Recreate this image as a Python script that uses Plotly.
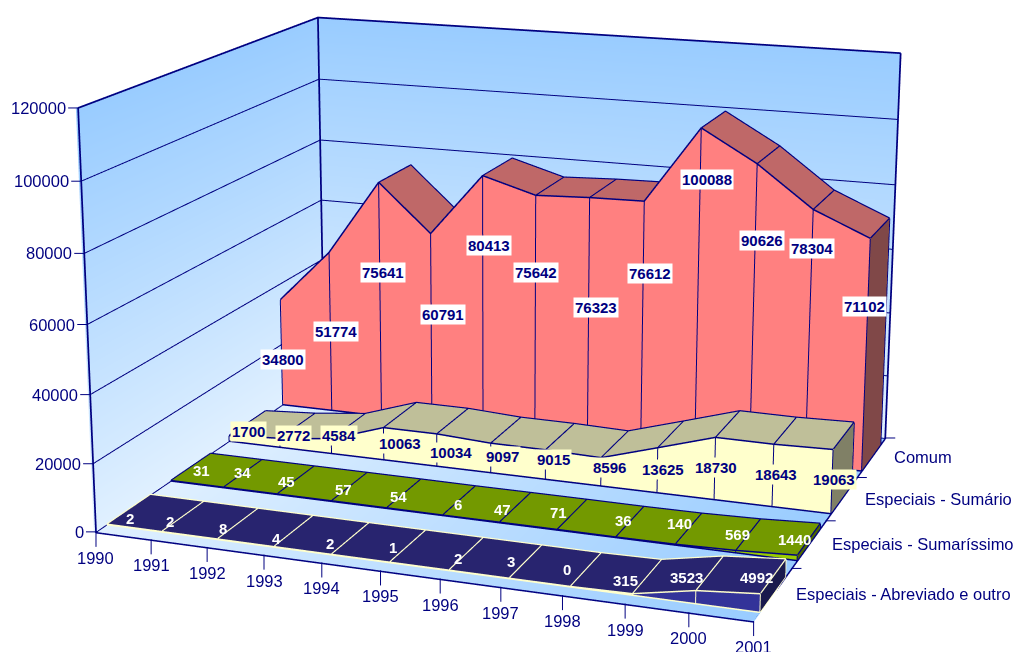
import plotly.graph_objects as go

years = list(range(1990, 2002))
series_names = ["Especiais - Abreviado e outro", "Especiais - Sumaríssimo", "Especiais - Sumário", "Comum"]
abreviado = [2, 2, 8, 4, 2, 1, 2, 3, 0, 315, 3523, 4992]
sumarissimo = [31, 34, 45, 57, 54, 6, 47, 71, 36, 140, 569, 1440]
sumario = [1700, 2772, 4584, 10063, 10034, 9097, 9015, 8596, 13625, 18730, 18643, 19063]
comum = [34800, 51774, 75641, 60791, 80413, 75642, 76323, 76612, 100088, 90626, 78304, 71102]
z_ticks = [0, 20000, 40000, 60000, 80000, 100000, 120000]

# pixel nudges of the data labels, per series, relative to mid-height of the ribbon
dx0 = [1, -13, -15, -17, -21, -15, -9, -15, -19, -22, -23, -17]
dy0 = [-9, -5, -5, -8, -5, -2, -5, 0, 0, -4, 2, 8]
dx1 = [10, -1, -10, -6, -6, -1, -13, -14, -7, -9, -11, -15]
dy1 = [-4, 1, -2, -3, -3, -4, -2, 2, 1, 5, 1, 2]
dx2 = [1, -5, -10, -1, -2, -4, -7, -5, -8, -11, -9, -9]
dy2 = [-6, -5, -2, -13, -16, -12, -8, -9, -13, -13, -13, -12]
dx3 = [-16, -11, -13, -4, -9, -14, -6, -5, -3, -3, -8, -11]
dy3 = [-18, -10, 18, 3, 47, 33, 2, 40, 102, 62, 79, 38]

LW, LH, TOP, LEFT = 1038, 2205, -812, -23
eye = dict(x=0.52079, y=-1.43936, z=0.41196)
center = dict(x=-0.00772, y=-0.00378, z=-0.00334)
up = dict(x=-0.09023, y=0.24597, z=0.96507)
aspect = dict(x=0.39261, y=0.32847, z=0.25)

NAVY = "#000080"
CREAM = "#FFFFCC"
FAM = "Liberation Sans"
LO, HI = 0.17, 0.83
fig = go.Figure()
light = dict(ambient=1, diffuse=0, specular=0, roughness=1, fresnel=0)


def quad(xs, ys, zs, **kw):
    n = len(xs) // 2
    i, j, k = [], [], []
    for m in range(n - 1):
        i += [m, m]
        j += [m + 1, m + n + 1]
        k += [m + n + 1, m + n]
    fig.add_trace(go.Mesh3d(x=xs, y=ys, z=zs, i=i, j=j, k=k, lighting=light, flatshading=True,
                            hoverinfo="skip", showscale=False, **kw))


def line(xs, ys, zs, color=NAVY, w=2):
    fig.add_trace(go.Scatter3d(x=xs, y=ys, z=zs, mode="lines", line=dict(color=color, width=w),
                               hoverinfo="skip", showlegend=False))


x0, x1 = years[0], years[-1]
y0, y1 = 0, 4
z0, z1 = -300, z_ticks[-1]
# the walls sit a hair behind the grid lines so the lines always win the depth test
wx, wy = x0 - 0.04, y1 + 0.02
wall = [[0, "#E0F0FF"], [1, "#99CCFF"]]
quad([wx, wx, wx, wx], [y0, wy, y0, wy], [z0, z0, z1, z1], intensity=[0, 0, 1, 1], colorscale=wall, cmin=0, cmax=1)
quad([wx, x1, wx, x1], [wy, wy, wy, wy], [z0, z0, z1, z1], intensity=[0, 0, 1, 1], colorscale=wall, cmin=0, cmax=1)
quad([wx, x1, wx, x1], [y0, y0, wy, wy], [z0, z0, z0, z0], intensity=[0, 1, 0, 1], colorscale=wall, cmin=0, cmax=1)
for t in z_ticks[1:-1]:
    line([x0, x0, x1], [y0, y1, y1], [t, t, t])
line([x0, x0, x1], [y0, y1, y1], [z1, z1, z1], w=3.5)
line([x0, x0], [y0, y0], [z0, z1], w=3.5)
line([x0, x0], [y1, y1], [z0, z1], w=3.5)
line([x1, x1], [y1, y1], [z0, z1], w=3.5)
line([x0, x1, x1, x0, x0], [y0, y0, y1, y1, y0], [z0 + 50] * 5, w=3)

styles = [(abreviado, "#333399", "#28246F", "#1A1A4D", CREAM, "white", dx0, dy0),
          (sumarissimo, "#99CC00", "#739900", "#4D6600", NAVY, "white", dx1, dy1),
          (sumario, CREAM, "#BFBF99", "#808066", NAVY, NAVY, dx2, dy2),
          (comum, "#FF8080", "#BF6868", "#804848", NAVY, NAVY, dx3, dy3)]
ann = []
lift, front = 120, 0.012
for s, (vals, cf, ct, cs, ce, tc, dx, dy) in enumerate(styles):
    a0, a1 = s + LO, s + HI
    n = len(years)
    zero = [0] * n
    quad(years + years, [a0] * (2 * n), zero + vals, color=cf)
    quad(years + years, [a0] * n + [a1] * n, vals + vals, color=ct)
    quad([x1] * 4, [a0, a1, a0, a1], [0, 0, vals[-1], vals[-1]], color=cs)
    up_vals = [v + lift for v in vals]
    line(years, [a0 - front] * n, up_vals, ce, 3)
    line(years, [a1] * n, up_vals, ce, 3)
    line(years, [a0 - front] * n, zero, ce, 3)
    for yr, v in zip(years, vals):
        line([yr, yr], [a0 - front, a0 - front], [0, v], ce, 2)
        line([yr, yr], [a0, a1], [v + lift, v + lift], ce, 2.5)
    line([x1, x1], [a1, a1], [0, vals[-1]], ce, 3)
    line([x1, x1], [a0, a1], [0, 0], ce, 3)
    for yr, v, ox, oy in zip(years, vals, dx, dy):
        ann.append(dict(x=yr, y=s + .5, z=v / 2, text=str(v), showarrow=False, xshift=ox, yshift=oy,
                        font=dict(family=FAM, size=15, color=tc, weight="bold"),
                        bgcolor={3: "white", 2: CREAM}.get(s, "rgba(0,0,0,0)"), borderpad=1))
lab = dict(family=FAM, size=16.5, color=NAVY)
for s, nm in enumerate(series_names):
    ann.append(dict(x=x1, y=s + .5, z=0, text=nm, showarrow=False, xanchor="left", xshift=21, font=lab))
for s in range(1, 5):
    ann.append(dict(x=x1, y=s, z=0, text=" ", showarrow=True, arrowhead=0, arrowwidth=1, arrowcolor=NAVY,
                    ax=10, ay=0, standoff=0, xanchor="left", font=dict(size=1)))
for yr in years:
    ann.append(dict(x=yr, y=0, z=0, text=str(yr), showarrow=True, arrowhead=0, arrowwidth=1, arrowcolor=NAVY,
                    ax=0, ay=15, yanchor="top", standoff=0, font=lab))
for t in z_ticks:
    ann.append(dict(x=x0, y=0, z=t, text=str(t), showarrow=True, arrowhead=0, arrowwidth=1, arrowcolor=NAVY,
                    ax=-10, ay=0, xanchor="right", standoff=0, font=lab))
ax = dict(showgrid=False, showbackground=False, zeroline=False, showline=False, ticks="",
          showticklabels=False, title="", showspikes=False)
fig.update_layout(
    width=LW, height=LH, margin=dict(l=0, r=0, t=0, b=0), paper_bgcolor="white", showlegend=False,
    scene=dict(domain=dict(x=[0, 1], y=[0, 1]), aspectmode="manual", aspectratio=aspect,
               camera=dict(eye=eye, center=center, up=up, projection=dict(type="perspective")),
               xaxis=dict(ax, range=[x0 - .05, x1 + .01], tickvals=years),
               yaxis=dict(ax, range=[y0 - .005, y1 + .025], tickvals=[0, 1, 2, 3, 4]),
               zaxis=dict(ax, range=[z0 - 100, z1 + 300], tickvals=z_ticks),
               annotations=ann))
fig.write_html("out.html", default_width=f"{LW}px", default_height=f"{LH}px",
               post_script=f"document.body.style.margin='{TOP}px 0 0 {LEFT}px';")
